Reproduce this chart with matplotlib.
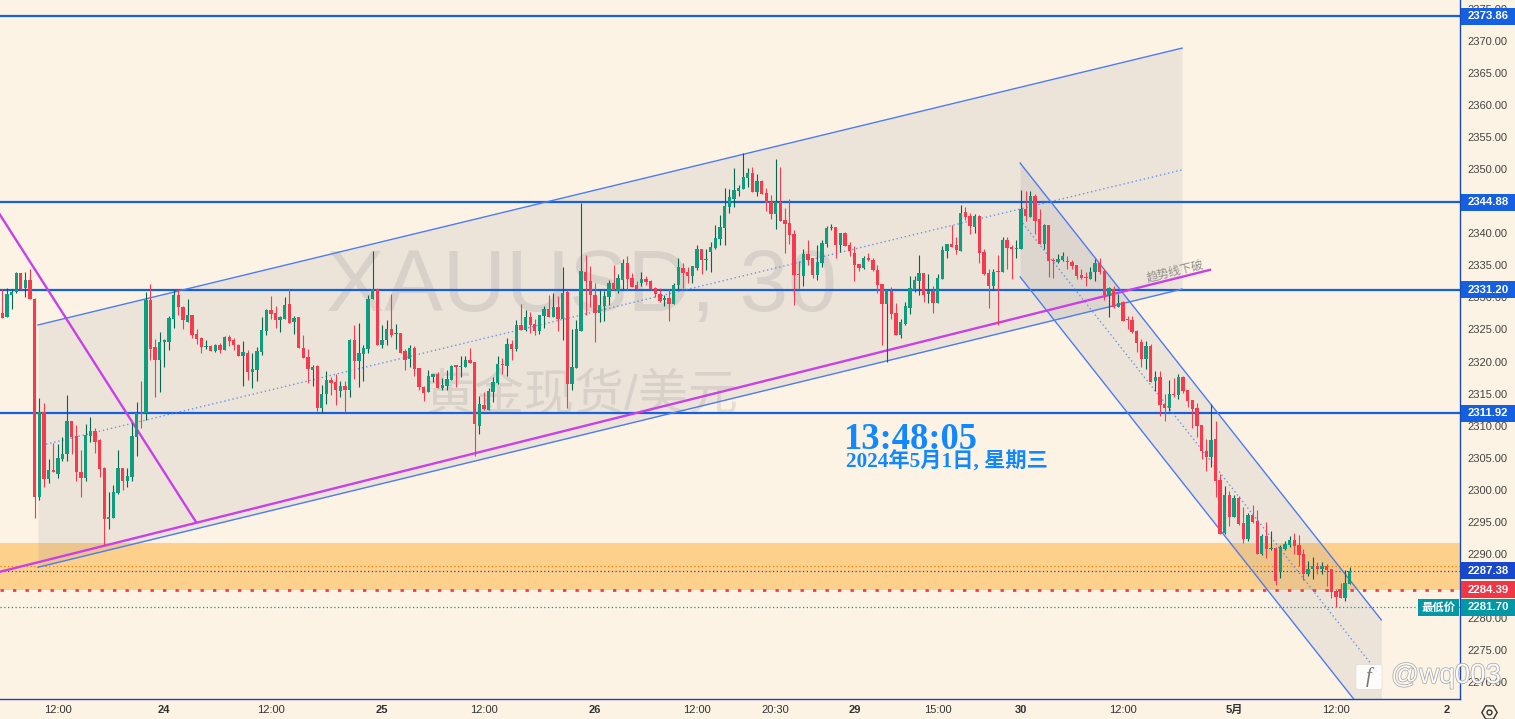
"""plot.py: XAUUSD 30 minute chart with channels and levels"""
import matplotlib
matplotlib.use("Agg")
import matplotlib.pyplot as plt
import matplotlib.patheffects as pe
from matplotlib.lines import Line2D
from matplotlib.patches import FancyBboxPatch, Rectangle
from matplotlib.transforms import blended_transform_factory
import numpy as np

opens = [
    2327.5, 2327.0, 2330.4, 2330.9, 2333.8, 2331.5, 2332.7, 2329.7, 2298.8, 2312.2,
    2301.7, 2303.1, 2302.5, 2304.8, 2305.5, 2310.7, 2308.4, 2302.8, 2301.9, 2308.4,
    2309.1, 2307.8, 2303.4, 2295.5, 2295.6, 2299.5, 2303.4, 2301.4, 2302.0, 2308.3,
    2311.9, 2311.9, 2329.6, 2322.3, 2320.2, 2323.0, 2323.1, 2326.6, 2330.4, 2328.5,
    2326.2, 2327.3, 2324.3, 2323.7, 2322.3, 2322.4, 2321.6, 2322.6, 2321.8, 2323.8,
    2323.4, 2322.5, 2320.8, 2321.3, 2318.3, 2318.7, 2321.5, 2324.8, 2328.0, 2327.5,
    2326.5, 2326.7, 2329.0, 2326.1, 2326.9, 2322.06, 2320.7, 2318.7, 2319.3, 2312.8,
    2315.0, 2317.1, 2316.8, 2315.4, 2316.2, 2315.6, 2323.4, 2320.1, 2321.2, 2322.0,
    2329.7, 2331.3, 2322.6, 2323.3, 2325.1, 2324.3, 2324.4, 2321.6, 2320.4, 2322.1,
    2319.0, 2316.0, 2315.3, 2317.6, 2318.1, 2315.9, 2316.2, 2317.1, 2319.4, 2319.2,
    2319.2, 2320.2, 2320.0, 2310.0, 2313.2, 2312.5, 2315.2, 2316.6, 2319.6, 2319.3,
    2322.7, 2322.0, 2325.7, 2324.9, 2327.0, 2325.9, 2324.8, 2327.1, 2328.2, 2326.9,
    2328.5, 2326.7, 2330.8, 2316.5, 2319.0, 2324.8, 2334.0, 2332.6, 2330.3, 2327.5,
    2328.7, 2330.1, 2332.2, 2331.0, 2332.7, 2335.3, 2333.0, 2331.9, 2332.2, 2332.8,
    2332.6, 2331.5, 2330.6, 2329.6, 2329.9, 2329.0, 2331.9, 2334.6, 2334.0, 2333.3,
    2334.6, 2337.5, 2335.9, 2337.1, 2337.7, 2339.1, 2340.9, 2344.1, 2345.3, 2346.6,
    2346.9, 2348.6, 2349.4, 2346.4, 2348.2, 2346.3, 2344.9, 2343.0, 2344.9, 2342.1,
    2341.6, 2339.9, 2333.6, 2333.3, 2336.8, 2336.1, 2333.5, 2335.4, 2338.3, 2340.8,
    2341.0, 2338.2, 2340.0, 2338.2, 2336.9, 2335.2, 2334.6, 2336.1, 2335.8, 2334.3,
    2332.1, 2329.0, 2331.0, 2327.5, 2324.1, 2325.8, 2328.3, 2331.1, 2332.5, 2333.8,
    2330.5, 2331.0, 2329.1, 2332.9, 2337.2, 2338.3, 2338.2, 2337.2, 2343.3, 2342.7,
    2341.0, 2342.7, 2337.1, 2333.8, 2331.8, 2334.1, 2333.9, 2338.9, 2337.9, 2337.6,
    2337.6, 2343.8, 2342.6, 2345.8, 2342.2, 2338.4, 2341.3, 2335.8, 2335.5, 2335.8,
    2335.7, 2335.5, 2335.0, 2333.5, 2333.2, 2332.9, 2333.9, 2335.4, 2334.1, 2330.3,
    2331.3, 2328.5, 2329.3, 2326.6, 2326.5, 2324.7, 2323.0, 2320.4, 2322.4, 2316.95,
    2317.6, 2313.4, 2312.7, 2314.9, 2314.8, 2317.6, 2315.5, 2314.0, 2312.7, 2310.1,
    2306.0, 2305.1, 2307.9, 2301.5, 2293.2, 2299.2, 2295.7, 2298.7, 2294.8, 2292.3,
    2296.0, 2295.1, 2290.0, 2292.8, 2290.7, 2290.9, 2287.1, 2290.7, 2291.4, 2292.1,
    2291.4, 2289.96, 2286.8, 2287.6, 2288.1, 2287.6, 2288.1, 2287.6, 2284.2, 2284.5,
    2283.1, 2285.3,
]
highs = [
    2331.3, 2331.4, 2331.3, 2333.9, 2333.8, 2333.9, 2334.4, 2329.9, 2314.3, 2313.6,
    2304.8, 2307.3, 2307.1, 2308.2, 2314.8, 2310.7, 2310.1, 2306.2, 2310.3, 2311.3,
    2309.7, 2307.9, 2303.6, 2299.6, 2300.7, 2306.2, 2303.4, 2303.4, 2310.4, 2313.7,
    2317.0, 2330.9, 2332.1, 2323.5, 2324.6, 2323.5, 2327.1, 2331.2, 2331.3, 2328.6,
    2329.7, 2327.3, 2325.0, 2323.8, 2323.4, 2322.5, 2322.7, 2322.9, 2324.0, 2324.1,
    2323.6, 2322.7, 2323.2, 2321.8, 2321.3, 2322.2, 2327.0, 2328.2, 2330.2, 2328.7,
    2327.1, 2330.0, 2331.3, 2327.1, 2326.9, 2324.1, 2322.0, 2319.5, 2319.4, 2316.3,
    2318.5, 2317.6, 2318.0, 2316.9, 2316.9, 2323.5, 2325.7, 2326.0, 2322.5, 2330.3,
    2337.2, 2331.5, 2325.7, 2326.5, 2330.5, 2325.9, 2324.5, 2321.9, 2322.5, 2322.4,
    2319.0, 2316.2, 2318.7, 2318.1, 2318.3, 2317.4, 2318.7, 2319.5, 2319.5, 2320.8,
    2320.8, 2322.1, 2320.0, 2314.6, 2315.3, 2315.8, 2317.6, 2320.8, 2320.5, 2323.6,
    2323.4, 2326.5, 2329.0, 2328.1, 2327.8, 2326.6, 2327.2, 2328.6, 2330.3, 2330.7,
    2330.2, 2334.7, 2331.2, 2325.0, 2326.5, 2344.8, 2336.6, 2334.9, 2332.2, 2331.2,
    2331.05, 2332.7, 2335.05, 2333.6, 2336.0, 2336.5, 2333.8, 2332.6, 2333.9, 2333.3,
    2332.7, 2331.7, 2331.4, 2330.4, 2331.3, 2332.2, 2336.2, 2335.3, 2334.7, 2334.9,
    2338.2, 2337.5, 2337.5, 2338.6, 2341.3, 2342.9, 2347.1, 2346.9, 2350.2, 2347.5,
    2352.5, 2350.2, 2350.3, 2349.2, 2348.3, 2347.1, 2346.0, 2351.6, 2350.3, 2343.9,
    2345.3, 2340.5, 2335.7, 2337.6, 2339.0, 2336.2, 2338.2, 2339.0, 2341.1, 2341.4,
    2341.0, 2340.1, 2340.2, 2338.7, 2338.0, 2335.2, 2336.5, 2336.9, 2336.2, 2335.1,
    2332.1, 2331.2, 2331.6, 2329.2, 2326.7, 2329.3, 2333.3, 2333.3, 2336.6, 2333.8,
    2333.6, 2331.8, 2333.7, 2338.0, 2338.3, 2341.3, 2339.4, 2344.4, 2344.1, 2343.2,
    2343.0, 2342.9, 2337.5, 2334.5, 2334.5, 2336.6, 2339.4, 2339.5, 2338.2, 2338.9,
    2346.8, 2346.6, 2346.6, 2346.1, 2343.8, 2341.4, 2341.3, 2336.2, 2336.8, 2337.1,
    2336.5, 2335.8, 2335.0, 2334.4, 2334.0, 2334.7, 2336.0, 2336.1, 2334.4, 2331.6,
    2331.8, 2330.5, 2329.4, 2327.1, 2327.1, 2324.9, 2323.5, 2323.2, 2322.7, 2318.5,
    2318.5, 2315.0, 2317.1, 2317.4, 2318.0, 2317.7, 2315.5, 2314.0, 2313.5, 2310.1,
    2307.9, 2313.4, 2310.7, 2302.4, 2300.6, 2299.8, 2299.2, 2299.0, 2297.3, 2296.3,
    2297.6, 2296.8, 2293.1, 2294.96, 2293.5, 2291.05, 2291.4, 2292.0, 2292.8, 2293.2,
    2292.9, 2290.7, 2288.9, 2289.5, 2288.7, 2288.7, 2288.4, 2287.6, 2284.5, 2285.4,
    2287.5, 2287.9,
]
lows = [
    2326.8, 2327.0, 2328.2, 2330.7, 2331.3, 2330.1, 2329.7, 2295.6, 2298.4, 2300.5,
    2301.1, 2302.8, 2301.9, 2304.5, 2304.5, 2305.5, 2301.4, 2298.9, 2301.3, 2307.5,
    2305.8, 2302.0, 2291.4, 2293.9, 2295.6, 2299.4, 2299.9, 2300.5, 2301.4, 2305.3,
    2309.7, 2310.8, 2320.3, 2314.5, 2315.2, 2319.2, 2321.8, 2325.3, 2327.3, 2325.1,
    2326.2, 2323.7, 2322.8, 2321.4, 2321.9, 2321.6, 2321.5, 2321.4, 2321.8, 2322.4,
    2321.8, 2320.9, 2316.2, 2317.1, 2315.9, 2317.0, 2321.0, 2324.1, 2326.6, 2325.2,
    2324.6, 2326.6, 2326.0, 2324.3, 2322.06, 2320.6, 2316.6, 2316.2, 2312.3, 2311.9,
    2313.4, 2314.7, 2313.2, 2314.5, 2312.2, 2314.5, 2317.2, 2316.1, 2317.0, 2321.4,
    2329.7, 2322.6, 2322.1, 2322.5, 2323.9, 2322.0, 2321.3, 2318.7, 2319.2, 2317.7,
    2315.6, 2313.8, 2315.3, 2316.8, 2315.8, 2315.6, 2315.6, 2317.1, 2316.1, 2317.6,
    2319.2, 2319.7, 2305.2, 2308.7, 2312.4, 2312.4, 2313.7, 2316.5, 2318.1, 2317.7,
    2320.2, 2321.6, 2324.9, 2324.7, 2324.4, 2324.1, 2324.3, 2325.3, 2327.0, 2326.9,
    2324.7, 2323.4, 2312.7, 2315.6, 2319.0, 2324.8, 2327.3, 2328.5, 2323.1, 2326.1,
    2326.3, 2328.8, 2331.2, 2330.7, 2331.2, 2331.2, 2331.6, 2331.1, 2331.8, 2331.9,
    2331.1, 2330.1, 2329.3, 2328.7, 2326.3, 2329.0, 2331.3, 2331.4, 2332.3, 2332.3,
    2334.2, 2333.6, 2334.3, 2334.0, 2337.6, 2338.2, 2338.2, 2343.2, 2344.1, 2345.9,
    2346.9, 2347.3, 2346.4, 2345.8, 2346.1, 2343.5, 2342.2, 2340.7, 2341.9, 2337.0,
    2338.4, 2328.8, 2331.3, 2331.8, 2335.0, 2333.0, 2332.7, 2334.8, 2337.9, 2340.5,
    2336.2, 2337.1, 2338.0, 2336.5, 2332.6, 2334.1, 2334.4, 2335.7, 2334.1, 2330.7,
    2322.6, 2319.9, 2326.6, 2324.2, 2323.6, 2325.7, 2327.4, 2330.9, 2330.4, 2329.3,
    2329.2, 2327.6, 2329.1, 2332.9, 2336.1, 2337.9, 2336.8, 2337.2, 2342.1, 2339.9,
    2340.1, 2335.4, 2333.5, 2328.3, 2331.1, 2325.7, 2333.9, 2334.5, 2332.9, 2336.2,
    2337.5, 2341.9, 2342.6, 2339.9, 2338.3, 2337.6, 2333.2, 2333.0, 2335.3, 2335.7,
    2334.4, 2334.4, 2332.9, 2332.9, 2331.8, 2332.9, 2332.5, 2333.7, 2329.6, 2327.0,
    2328.4, 2328.5, 2326.3, 2325.1, 2324.5, 2321.5, 2319.1, 2318.8, 2316.8, 2315.4,
    2311.5, 2310.7, 2312.3, 2314.5, 2314.1, 2315.1, 2312.9, 2309.6, 2308.2, 2304.8,
    2302.9, 2303.5, 2298.9, 2293.1, 2293.1, 2294.3, 2295.7, 2294.5, 2291.7, 2292.0,
    2294.8, 2290.0, 2289.8, 2289.3, 2290.6, 2285.1, 2286.2, 2290.6, 2291.05, 2290.0,
    2288.1, 2285.9, 2286.5, 2286.05, 2286.8, 2286.8, 2285.0, 2283.1, 2281.7, 2283.1,
    2282.6, 2285.3,
]
closes = [
    2326.8, 2330.5, 2330.9, 2333.8, 2331.3, 2332.7, 2329.7, 2298.8, 2312.2, 2301.7,
    2303.1, 2302.8, 2304.9, 2305.6, 2310.7, 2308.3, 2302.7, 2301.9, 2308.5, 2309.1,
    2307.5, 2303.3, 2295.5, 2295.7, 2299.6, 2303.4, 2301.4, 2302.1, 2308.4, 2311.9,
    2311.8, 2329.6, 2322.0, 2320.2, 2323.0, 2323.3, 2326.8, 2330.4, 2328.5, 2326.4,
    2327.3, 2324.1, 2323.5, 2322.2, 2322.4, 2321.6, 2322.6, 2321.8, 2323.8, 2323.2,
    2322.5, 2320.9, 2321.5, 2318.3, 2318.8, 2321.6, 2324.9, 2328.1, 2327.4, 2326.5,
    2327.0, 2328.8, 2326.0, 2326.8, 2322.06, 2320.6, 2318.9, 2319.2, 2312.8, 2315.0,
    2317.1, 2316.7, 2315.5, 2316.2, 2315.6, 2323.4, 2320.1, 2321.3, 2322.1, 2329.8,
    2331.3, 2322.6, 2323.4, 2325.1, 2324.1, 2324.4, 2321.4, 2320.2, 2322.1, 2318.8,
    2316.0, 2315.1, 2317.7, 2318.1, 2315.9, 2316.3, 2317.3, 2319.3, 2319.2, 2319.3,
    2320.2, 2319.7, 2310.2, 2313.4, 2312.6, 2315.4, 2316.8, 2319.6, 2319.4, 2322.7,
    2322.0, 2325.7, 2324.9, 2327.0, 2325.7, 2324.8, 2327.2, 2328.2, 2327.0, 2328.5,
    2326.7, 2330.7, 2316.5, 2319.1, 2325.0, 2334.1, 2332.6, 2330.3, 2327.5, 2328.8,
    2330.2, 2332.2, 2331.2, 2333.0, 2335.3, 2332.9, 2331.7, 2331.3, 2332.8, 2332.4,
    2331.3, 2330.6, 2329.4, 2329.9, 2329.0, 2332.0, 2334.7, 2333.8, 2333.3, 2334.9,
    2337.5, 2335.8, 2336.0, 2337.9, 2339.3, 2341.0, 2344.3, 2345.7, 2346.8, 2347.1,
    2348.8, 2349.4, 2346.4, 2348.2, 2346.1, 2344.7, 2343.0, 2344.9, 2341.9, 2341.4,
    2339.7, 2333.5, 2333.5, 2336.8, 2335.8, 2333.5, 2335.5, 2338.5, 2340.8, 2341.0,
    2338.2, 2340.0, 2338.0, 2337.2, 2335.1, 2334.6, 2336.1, 2335.8, 2334.2, 2331.9,
    2329.0, 2331.2, 2327.4, 2324.2, 2326.2, 2328.6, 2331.5, 2332.7, 2333.8, 2330.4,
    2331.0, 2329.1, 2333.0, 2337.4, 2338.3, 2337.9, 2337.4, 2343.2, 2342.5, 2341.2,
    2342.7, 2336.9, 2333.6, 2331.8, 2333.9, 2333.9, 2338.9, 2337.7, 2337.5, 2337.7,
    2343.8, 2342.7, 2345.8, 2342.0, 2338.4, 2341.3, 2335.7, 2335.7, 2336.0, 2336.5,
    2335.5, 2334.9, 2333.3, 2333.0, 2333.0, 2333.9, 2335.4, 2333.9, 2330.4, 2331.5,
    2328.5, 2329.1, 2326.3, 2326.5, 2324.6, 2322.9, 2320.4, 2322.4, 2316.8, 2317.6,
    2313.2, 2312.7, 2314.9, 2314.7, 2317.6, 2315.4, 2313.8, 2312.6, 2309.9, 2306.0,
    2305.1, 2307.7, 2301.3, 2293.1, 2299.2, 2295.7, 2298.7, 2294.6, 2292.3, 2296.0,
    2294.95, 2290.0, 2292.8, 2290.7, 2290.9, 2285.7, 2291.05, 2291.5, 2292.1, 2291.2,
    2289.8, 2286.8, 2287.6, 2288.1, 2287.6, 2288.1, 2287.5, 2284.0, 2283.2, 2283.1,
    2285.4, 2287.3,
]

# bar number of each time label on the bottom axis
time_ticks = [12, 35, 58, 82, 104, 128, 150, 167, 184, 202, 220, 242, 266, 288, 312]
time_labels = ["12:00", "24", "12:00", "25", "12:00", "26", "12:00", "20:30",
               "29", "15:00", "30", "12:00", "5月", "12:00", "2"]
bold_labels = ["24", "25", "26", "29", "30", "5月", "2"]
price_ticks = list(range(2270, 2380, 5))

levels = [2373.86, 2344.88, 2331.20, 2311.92]
last_price = 2287.38
red_level = 2284.39
low_price = 2281.70
orange_level = 2288.1
zone = (2284.3, 2291.7)

# channels: x of both ends, then (upper, middle, lower) prices at those ends
up_x = (7.7, 254.8)
up_upper = (2325.7, 2368.9)
up_mid = (2306.8, 2349.9)
up_lower = (2287.9, 2331.3)
down_x = (219.8, 297.8)
down_upper = (2350.97, 2279.7)
down_mid = (2342.1, 2270.8)
down_lower = (2333.2, 2261.9)
trend_x = (-0.5, 260.8)
trend_y = (2287.2, 2334.3)
cross_x = (-0.5, 41.8)
cross_y = (2342.9, 2295.0)

W, H = 1515, 719
X_MIN, X_MAX = -0.497, 314.8
Y_MIN, Y_MAX = 2267.35, 2376.4
BG = "#fdf3e4"
BLUE = "#1460e0"
AXIS_BLUE = "#1848b4"
CHANNEL = "#4d7cf0"
MAGENTA = "#c940e8"
GREEN = "#0f9d80"
GREEN_WICK = "#04664f"
RED = "#f73a4d"
TEAL = "#0097a7"
FILL = (0.47, 0.47, 0.55, 0.12)
SANS = ["Liberation Sans", "Noto Sans CJK SC"]
SERIF = ["Liberation Serif", "Noto Sans CJK SC"]


def draw_channel(ax, xs, upper, mid, lower):
    ax.fill_between(xs, upper, lower, color=FILL, lw=0, zorder=1.5)
    ax.plot(xs, upper, color=CHANNEL, lw=1, zorder=3)
    ax.plot(xs, lower, color=CHANNEL, lw=1, zorder=3)
    ax.plot(xs, mid, color=CHANNEL, lw=1, ls=(0, (1, 2)), alpha=0.8, zorder=3)


def price_tag(fig, trans, price, color, left=1461, right=1515, text=None):
    h = 17 / 6.41
    fig.add_artist(Rectangle((left / W, price - h / 2), (right - left) / W, h, transform=trans,
                             facecolor=color, edgecolor="none", zorder=2))
    fig.text((left + right) / 2 / W, price, text or "%.2f" % price, transform=trans, color="white",
             fontsize=8.2, fontweight="bold", family=SANS, ha="center", va="center", zorder=3)


if __name__ == '__main__':
    opens, highs, lows, closes = map(np.array, (opens, highs, lows, closes))
    bars = np.arange(len(opens))
    up = closes >= opens

    fig = plt.figure(figsize=(W / 100, H / 100), dpi=100, facecolor=BG)
    ax = fig.add_axes([0, 20 / H, 1460 / W, 699 / H], facecolor=BG)
    ax.set_xlim(X_MIN, X_MAX)
    ax.set_ylim(Y_MIN, Y_MAX)

    # background text
    ax.text(125, 2331.4, "XAUUSD, 30", color="#8c8c8c", alpha=0.2, fontsize=63, family="Liberation Sans",
            ha="center", va="center", zorder=0.5)
    ax.text(125, 2314.6, "黄金现货/美元", color="#8c8c8c", alpha=0.2, fontsize=36, family=SANS,
            ha="center", va="center", zorder=0.5)

    ax.axhspan(zone[0], zone[1], color="#fdd08c", lw=0, zorder=1)
    draw_channel(ax, up_x, up_upper, up_mid, up_lower)
    draw_channel(ax, down_x, down_upper, down_mid, down_lower)

    for level in levels:
        ax.axhline(level, color=BLUE, lw=1.6, zorder=2.5)
    ax.axhline(orange_level, color="#f57c00", lw=0.9, ls=(0, (1, 2)), zorder=2.5)
    ax.axhline(last_price, color="#1848cc", lw=0.9, ls=(0, (1, 2)), zorder=2.5)
    ax.axhline(low_price, color=TEAL, lw=0.9, ls=(0, (1, 2)), zorder=2.5)
    ax.axhline(red_level, color=RED, lw=2, ls=(0, (1.2, 3.3)), zorder=2.5)

    ax.plot(trend_x, trend_y, color=MAGENTA, lw=1.7, zorder=3.2)
    ax.plot(cross_x, cross_y, color=MAGENTA, lw=1.7, zorder=3.2)

    # candles
    ax.vlines(bars[up], lows[up], highs[up], color=GREEN_WICK, lw=0.8, zorder=4)
    ax.vlines(bars[~up], lows[~up], highs[~up], color=RED, lw=0.8, zorder=4)
    for mask, color in ((up, GREEN), (~up, RED)):
        height = np.maximum(np.abs(closes[mask] - opens[mask]), 0.16)
        ax.bar(bars[mask], height, bottom=np.minimum(opens[mask], closes[mask]), width=0.72,
               color=color, lw=0, zorder=4.2)

    ax.text(0.8048, 0.6109, "趋势线下破", transform=ax.transAxes, color="#8f8f8b", fontsize=8.5,
            family=SANS, rotation=14, ha="center", va="center", zorder=5)
    ax.text(0.6236, 0.3715, "13:48:05", transform=ax.transAxes, color="#1188ff", fontsize=26.4,
            fontweight="bold", family=SERIF, ha="center", va="center", zorder=5)
    ax.text(0.6483, 0.3385, "2024年5月1日, 星期三", transform=ax.transAxes, color="#1188ff", fontsize=15.3,
            fontweight="bold", family=SERIF, ha="center", va="center", zorder=5)

    # axes
    for side in ("top", "left"):
        ax.spines[side].set_visible(False)
    for side in ("right", "bottom"):
        ax.spines[side].set_color(AXIS_BLUE)
        ax.spines[side].set_linewidth(1)
    ax.yaxis.tick_right()
    ax.set_yticks(price_ticks)
    ax.set_yticklabels(["%.2f" % p for p in price_ticks], family=SANS, fontsize=8, color="#444444")
    ax.set_xticks(time_ticks)
    ax.set_xticklabels(time_labels, family=SANS, fontsize=8, color="#333333")
    for label in ax.get_xticklabels():
        if label.get_text() in bold_labels:
            label.set_fontweight("bold")
    ax.tick_params(axis="both", length=0)
    ax.tick_params(axis="y", pad=5)
    ax.tick_params(axis="x", pad=4)

    # price tags on the right axis
    trans = blended_transform_factory(fig.transFigure, ax.transData)
    for level in levels:
        price_tag(fig, trans, level, BLUE)
    price_tag(fig, trans, last_price, "#1848cc")
    price_tag(fig, trans, red_level, "#f23645")
    price_tag(fig, trans, low_price, TEAL)
    price_tag(fig, trans, low_price, TEAL, left=1418, right=1459, text="最低价")

    # logo and handle in the corner
    fig.add_artist(FancyBboxPatch((1359 / W, (H - 688) / H), 20 / W, 22 / H, transform=fig.transFigure,
                                  boxstyle="round,pad=0.002", facecolor="white", edgecolor="#dddddd",
                                  lw=0.6, alpha=0.9, zorder=4))
    fig.text(1369 / W, (H - 677) / H, "f", color="#777777", fontsize=15, style="italic", family="Liberation Serif",
             ha="center", va="center", zorder=5)
    fig.text(1446 / W, (H - 676) / H, "@wq003", color="white", fontsize=20, family="Liberation Sans", alpha=0.9,
             ha="center", va="center", zorder=5,
             path_effects=[pe.withStroke(linewidth=1.0, foreground="#9a9a9a")])

    # settings icon
    fig.add_artist(Line2D([1489 / W], [(H - 712) / H], transform=fig.transFigure, marker="H", ms=11,
                          mfc="none", mec="#333333", mew=1, zorder=5))
    fig.add_artist(Line2D([1489 / W], [(H - 712) / H], transform=fig.transFigure, marker="o", ms=3.5,
                          mfc="none", mec="#333333", mew=1, zorder=5))

    fig.savefig("out.png", dpi=100, facecolor=BG)
